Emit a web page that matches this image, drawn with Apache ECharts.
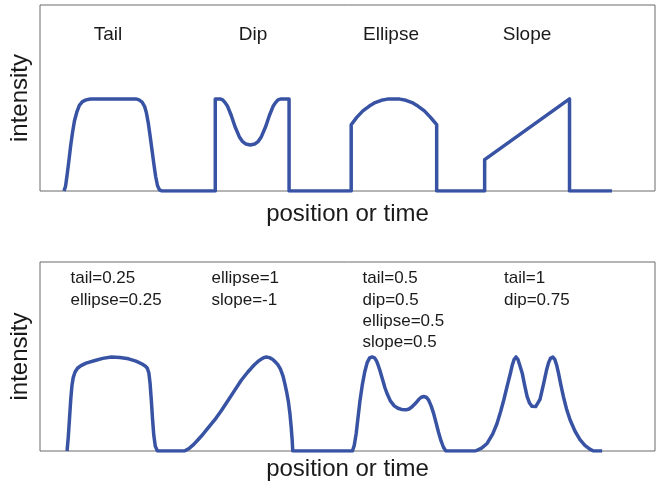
<!DOCTYPE html>
<html>
<head>
<meta charset="utf-8">
<script src="https://cdn.jsdelivr.net/npm/echarts@6/dist/echarts.min.js"></script>
<style>
  html, body { margin: 0; padding: 0; background: #ffffff; }
  #chart { width: 664px; height: 490px; }
</style>
</head>
<body>
<div id="chart"></div>
<script>
// ---- Data (position in arbitrary units 0..100, intensity normalised to 1) ----
// Top panel: four basic pulse shapes
const topTail = [[3.9,0],[4.15,0.05],[4.4,0.17],[4.7,0.33],[5.0,0.5],[5.3,0.64],[5.6,0.76],[6.0,0.86],[6.4,0.93],[6.9,0.97],[7.5,0.99],[8.2,1],[15.6,1],[16.1,0.99],[16.6,0.965],[17.0,0.92],[17.3,0.85],[17.6,0.74],[17.9,0.6],[18.2,0.45],[18.5,0.3],[18.8,0.16],[19.1,0.06],[19.4,0.015],[19.8,0]];
const topDip = [[28.5,0],[28.5,1],[29.3,1],[29.7,0.99],[30.1,0.96],[30.5,0.92],[31.1,0.82],[31.7,0.7],[32.4,0.59],[32.9,0.54],[33.5,0.51],[34.2,0.5],[34.9,0.51],[35.5,0.54],[36.0,0.59],[36.7,0.7],[37.3,0.82],[37.9,0.92],[38.3,0.96],[38.7,0.99],[39.2,1],[40.5,1],[40.5,0]];
const topEllipse = [[50.6,0],[50.6,0.72],[51.5,0.8],[52.5,0.87],[53.5,0.92],[54.5,0.96],[55.5,0.985],[56.5,0.998],[57.5,1],[58.5,0.998],[59.5,0.985],[60.5,0.96],[61.5,0.92],[62.5,0.87],[63.5,0.8],[64.5,0.72],[64.5,0]];
const topSlope = [[72.3,0],[72.3,0.34],[86.1,1],[86.1,0],[93.0,0]];

// Bottom panel: combined shapes
const botShape1 = [[4.4,0],[4.6,0.15],[4.8,0.35],[5.0,0.55],[5.2,0.7],[5.4,0.78],[5.7,0.84],[6.1,0.88],[6.6,0.905],[7.5,0.935],[8.8,0.96],[10.2,0.985],[11.6,1],[13.0,0.995],[14.4,0.98],[15.6,0.955],[16.6,0.925],[17.1,0.905],[17.45,0.88],[17.7,0.83],[17.9,0.72],[18.1,0.54],[18.3,0.34],[18.5,0.17],[18.75,0.05],[19.1,0]];
const botShape2 = [[23.5,0],[24.3,0.03],[25.0,0.07],[25.7,0.12],[26.4,0.17],[27.0,0.22],[27.7,0.275],[28.4,0.33],[29.5,0.43],[30.6,0.54],[31.7,0.65],[32.7,0.75],[33.3,0.8],[33.8,0.84],[34.4,0.885],[34.9,0.92],[35.4,0.95],[35.8,0.97],[36.3,0.99],[36.8,1.0],[37.3,0.993],[37.8,0.975],[38.3,0.945],[38.7,0.915],[39.1,0.87],[39.5,0.8],[39.8,0.72],[40.1,0.63],[40.4,0.52],[40.65,0.39],[40.85,0.25],[41.0,0.12],[41.1,0]];
const botShape3 = [[50.8,0],[51.1,0.06],[51.4,0.18],[51.7,0.35],[52.0,0.52],[52.4,0.7],[52.8,0.84],[53.2,0.94],[53.6,0.99],[54.0,1.0],[54.4,0.99],[54.7,0.96],[55.0,0.91],[55.3,0.85],[55.7,0.76],[56.1,0.67],[56.5,0.6],[57.0,0.53],[57.6,0.48],[58.2,0.455],[58.9,0.44],[59.5,0.438],[60.0,0.447],[60.5,0.47],[61.1,0.51],[61.6,0.55],[62.0,0.572],[62.4,0.58],[62.8,0.572],[63.2,0.54],[63.6,0.48],[64.0,0.4],[64.4,0.3],[64.8,0.2],[65.2,0.11],[65.6,0.04],[66.0,0]];
const botShape4 = [[70.8,0],[71.8,0.03],[72.7,0.08],[73.6,0.18],[74.3,0.29],[74.9,0.42],[75.4,0.54],[76.0,0.7],[76.5,0.83],[76.8,0.915],[77.1,0.975],[77.4,1.0],[77.7,0.975],[78.0,0.915],[78.4,0.83],[78.8,0.7],[79.2,0.58],[79.6,0.51],[80.0,0.475],[80.3,0.47],[80.6,0.473],[80.9,0.49],[81.3,0.55],[81.9,0.72],[82.4,0.87],[82.7,0.94],[83.0,0.985],[83.4,1.0],[83.7,0.975],[84.0,0.915],[84.3,0.83],[84.7,0.7],[85.1,0.58],[85.6,0.45],[86.2,0.33],[87.0,0.21],[87.8,0.12],[88.6,0.06],[89.4,0.02],[90.0,0],[91.4,0]];

// Texts
const topLabels = ['Tail', 'Dip', 'Ellipse', 'Slope'];
const bottomLabels = [
  ['tail=0.25', 'ellipse=0.25'],
  ['ellipse=1', 'slope=-1'],
  ['tail=0.5', 'dip=0.5', 'ellipse=0.5', 'slope=0.5'],
  ['tail=1', 'dip=0.75']
];
const xName = 'position or time';
const yName = 'intensity';

// ---- Layout ----
const topLabelX = [108, 253, 391, 527];
const bottomLabelX = [70.5, 211.5, 362.5, 504];
const FONT = '"Liberation Sans", Arial, Helvetica, sans-serif';
const LINE = '#3953a4';
const TEXT = '#1a1a1a';

const topData = [].concat(topTail, topDip, topEllipse, topSlope);
const botData = [].concat(botShape1, botShape2, botShape3, botShape4);

const chart = echarts.init(document.getElementById('chart'), null, { renderer: 'canvas' });

function xAxisCfg(gridIndex, gap) {
  return {
    type: 'value', gridIndex: gridIndex, min: 0, max: 100,
    name: xName, nameLocation: 'middle', nameGap: gap,
    nameTextStyle: { fontFamily: FONT, fontSize: 24, color: TEXT },
    axisLine: { show: false }, axisTick: { show: false },
    axisLabel: { show: false }, splitLine: { show: false }
  };
}
function yAxisCfg(gridIndex, max) {
  return {
    type: 'value', gridIndex: gridIndex, min: 0, max: max,
    name: yName, nameLocation: 'middle', nameGap: 8, nameRotate: 90,
    nameTextStyle: { fontFamily: FONT, fontSize: 24, color: TEXT },
    axisLine: { show: false }, axisTick: { show: false },
    axisLabel: { show: false }, splitLine: { show: false }
  };
}

const graphics = [];
topLabels.forEach(function (t, i) {
  graphics.push({
    type: 'text', x: topLabelX[i], y: 25,
    style: { text: t, font: '19px ' + FONT, fill: TEXT, textAlign: 'center', textVerticalAlign: 'top' }
  });
});
bottomLabels.forEach(function (lines, i) {
  graphics.push({
    type: 'text', x: bottomLabelX[i], y: 268,
    style: { text: lines.join('\n'), font: '17px ' + FONT, fill: TEXT, lineHeight: 21.3, textAlign: 'left', textVerticalAlign: 'top' }
  });
});

chart.setOption({
  animation: false,
  backgroundColor: '#ffffff',
  grid: [
    { left: 38, top: 5, width: 617, height: 186, show: true, borderColor: '#6a6a6a', borderWidth: 1, backgroundColor: 'transparent' },
    { left: 38, top: 262, width: 617, height: 189, show: true, borderColor: '#6a6a6a', borderWidth: 1, backgroundColor: 'transparent' }
  ],
  xAxis: [xAxisCfg(0, 11), xAxisCfg(1, 6)],
  yAxis: [yAxisCfg(0, 2.02), yAxisCfg(1, 2.01)],
  series: [
    {
      type: 'line', xAxisIndex: 0, yAxisIndex: 0, data: topData,
      showSymbol: false, symbol: 'none',
      lineStyle: { color: LINE, width: 3.5, join: 'round', cap: 'butt' }
    },
    {
      type: 'line', xAxisIndex: 1, yAxisIndex: 1, data: botData,
      showSymbol: false, symbol: 'none',
      lineStyle: { color: LINE, width: 3.5, join: 'round', cap: 'butt' }
    }
  ],
  graphic: graphics
});
</script>
</body>
</html>
